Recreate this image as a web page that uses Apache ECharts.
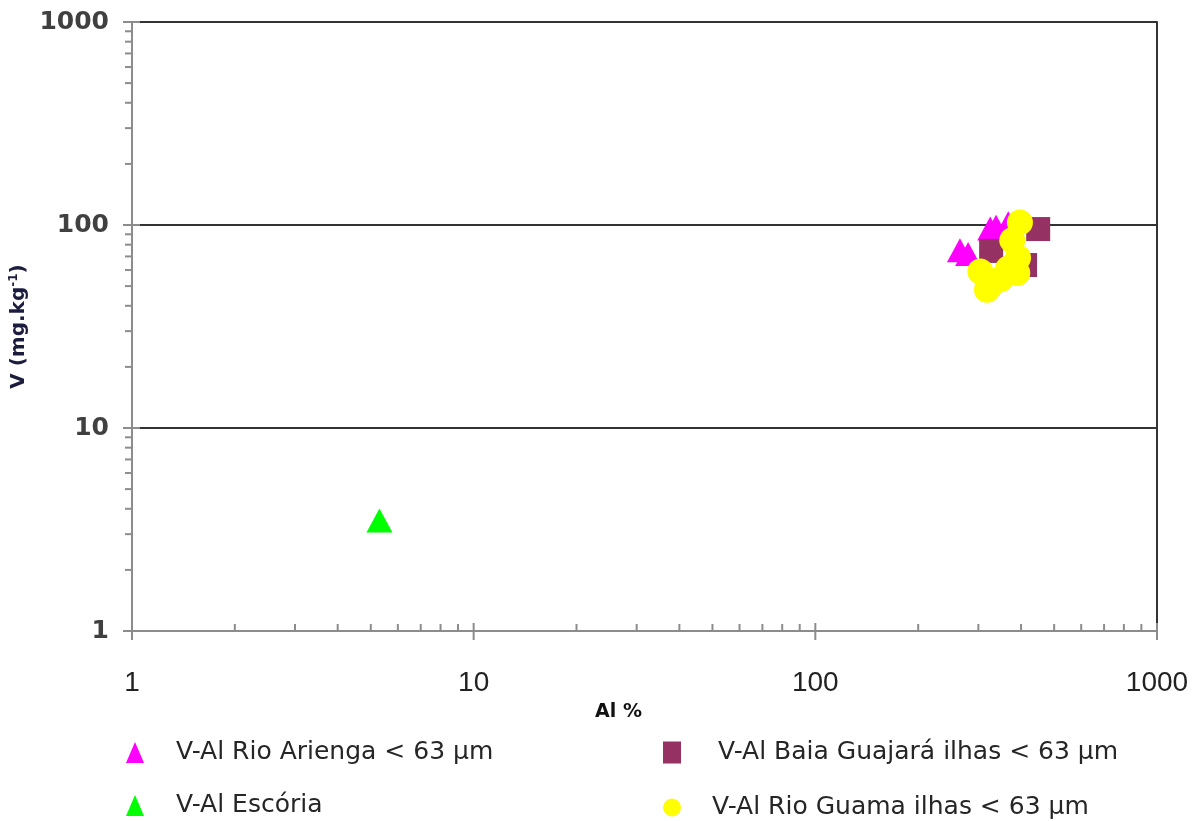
<!DOCTYPE html>
<html><head><meta charset="utf-8">
<script src="https://cdn.jsdelivr.net/npm/echarts@6/dist/echarts.min.js"></script>
<style>html,body{margin:0;padding:0;background:#fff}#c{width:1200px;height:821px}</style>
</head><body><div id="c"></div>
<script>
// Data (Al %, V mg/kg)
const arienga = [[265,75],[280,72],[325,96],[338,98],[367,102]];
const baia = [[327,74.5],[449,95.5],[411,63.5]];
const escoria = [[5.3,3.5]];
const guama = [[397,103],[377,84],[392,69],[367,61],[390,58],[304,59],[325,50],[318,48],[348,54]];
const seriesNames = ['V-Al Rio Arienga < 63 µm','V-Al Baia Guajará ilhas < 63 µm','V-Al Escória','V-Al Rio Guama ilhas < 63 µm'];
const xTickLabels = [1,10,100,1000];
const yTickLabels = [1,10,100,1000];
const minorMultipliers = [2,3,4,5,6,7,8,9];

const chart = echarts.init(document.getElementById('c'));
const tickColor = '#8c8c8c';

function renderTicks(params, api){
  const ch = [];
  const line = (x1,y1,x2,y2)=>ch.push({type:'line',shape:{x1,y1,x2,y2},style:{stroke:tickColor,lineWidth:2}});
  const xmin = xTickLabels[0], ymin = yTickLabels[0];
  xTickLabels.forEach(v=>{const p=api.coord([v,ymin]); line(p[0],p[1]-8,p[0],p[1]+9);});
  yTickLabels.forEach(v=>{const p=api.coord([xmin,v]); line(p[0]-9,p[1],p[0]+8,p[1]);});
  xTickLabels.slice(0,-1).forEach(d=>minorMultipliers.forEach(m=>{const p=api.coord([d*m,ymin]); line(p[0],p[1]-7,p[0],p[1]);}));
  yTickLabels.slice(0,-1).forEach(d=>minorMultipliers.forEach(m=>{const p=api.coord([xmin,d*m]); line(p[0]-7,p[1],p[0],p[1]);}));
  return {type:'group',children:ch};
}

const legendText = {fontFamily:'DejaVu Sans',fontSize:25,color:'#262626'};
function mkLegend(name, icon, left, top, pad, w, h){
  return {data:[{name, icon}], left, top, padding:0, itemWidth:w, itemHeight:h, selectedMode:false,
    textStyle:Object.assign({}, legendText, {padding:[0,0,0,pad]})};
}

chart.setOption({
  animation:false,
  grid:{left:131, right:43, top:22, bottom:190, containLabel:false},
  xAxis:{type:'log', min:1, max:1000, logBase:10,
    name:'Al %', nameLocation:'middle', nameGap:81,
    nameTextStyle:{fontFamily:'DejaVu Sans', fontWeight:'bold', fontSize:19, color:'#111', verticalAlign:'middle', padding:[0,52,0,0]},
    axisLine:{lineStyle:{color:tickColor,width:2}},
    axisTick:{show:false}, splitLine:{show:false},
    axisLabel:{margin:38, fontFamily:'Liberation Sans Narrow, Liberation Sans', fontSize:28, color:'#222',
      formatter:v=>xTickLabels.includes(Math.round(v))?String(Math.round(v)):''}
  },
  yAxis:[{type:'log', min:1, max:1000, logBase:10,
    name:'V (mg.kg{sup|-1})', nameLocation:'middle', nameGap:94,
    nameTextStyle:{fontFamily:'DejaVu Sans', fontWeight:'bold', fontSize:20, color:'#1c1c3c',
      rich:{sup:{fontFamily:'DejaVu Sans', fontWeight:'bold', fontSize:12, color:'#1c1c3c', verticalAlign:'top', padding:[0,0,9,0]}}},
    axisLine:{show:true, lineStyle:{color:tickColor,width:2}},
    axisTick:{show:false},
    splitLine:{show:true, lineStyle:{color:['rgba(0,0,0,0)','#333','#333','#333'], width:2}},
    axisLabel:{margin:23, fontFamily:'DejaVu Sans', fontWeight:'bold', fontSize:25, color:'#404040',
      formatter:v=>yTickLabels.includes(Math.round(v))?String(Math.round(v)):''}
  },{type:'log', min:1, max:1000, position:'right',
    axisLine:{show:true, lineStyle:{color:'#333',width:2}}, axisTick:{show:false}, axisLabel:{show:false}, splitLine:{show:false}}],
  legend:[
    mkLegend(seriesNames[0],'triangle',126,740,27,18,21),
    mkLegend(seriesNames[2],'triangle',126,793,27,18,21),
    mkLegend(seriesNames[1],'rect',663,740,32,18,22),
    mkLegend(seriesNames[3],'circle',663,795,26,18,18)
  ],
  series:[
    {type:'custom', coordinateSystem:'cartesian2d', data:[[1,1]], renderItem:renderTicks, silent:true, z:1},
    {name:seriesNames[0], type:'scatter', data:arienga, symbol:'triangle', symbolSize:[26,24], itemStyle:{color:'#ff00ff', opacity:1}, z:3},
    {name:seriesNames[1], type:'scatter', data:baia, symbol:'rect', symbolSize:24, itemStyle:{color:'#953263', opacity:1}, z:4},
    {name:seriesNames[2], type:'scatter', data:escoria, symbol:'triangle', symbolSize:[26,24], itemStyle:{color:'#00ff00', opacity:1}, z:5},
    {name:seriesNames[3], type:'scatter', data:guama, symbol:'circle', symbolSize:26, itemStyle:{color:'#ffff00', opacity:1}, z:6}
  ]
});
</script></body></html>
